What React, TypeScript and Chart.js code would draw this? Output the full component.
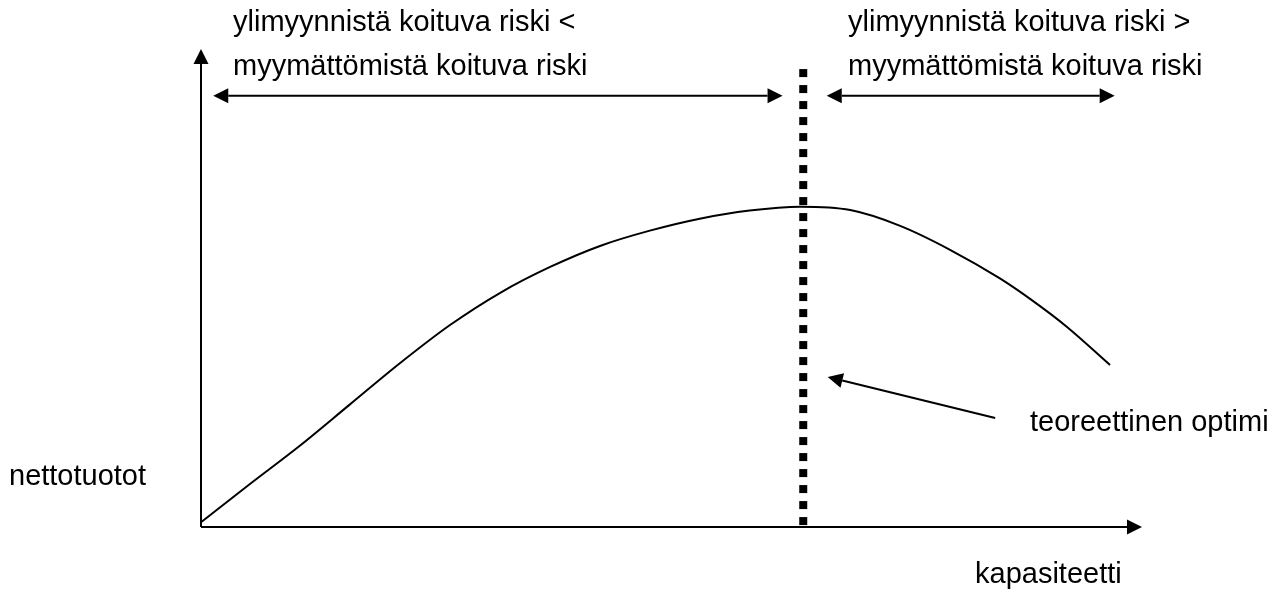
import React, { useEffect, useRef } from "react";
import { Chart, registerables } from "chart.js";

Chart.register(...registerables);

// Net revenue curve (x: capacity, y: net revenue)
const curveX = [0, 5.2, 10.5, 15.8, 21.1, 26.5, 31.8, 37.1, 42.4, 47.7, 53.0, 58.3, 63.7, 69.0, 74.3, 79.6, 84.9, 88.4, 92.0, 96.6];
const curveY = [1.0, 9.0, 17.0, 25.6, 34.2, 42.3, 49.0, 54.4, 58.8, 62.0, 64.5, 66.2, 67.0, 66.3, 63.0, 58.0, 52.0, 47.3, 41.9, 33.9];

// Theoretical optimum (vertical dotted line)
const optimumX = 64.0;
const optimumY = [95.8, 0];

// Arrows: [x1, y1, x2, y2, headAtStart, headAtEnd]
const arrowLines: [number, number, number, number, boolean, boolean][] = [
  [0, 0, 100, 0, false, true],        // x axis
  [0, 0, 0, 100, false, true],        // y axis
  [1.3, 90.2, 61.8, 90.2, true, true],
  [66.5, 90.2, 97.1, 90.2, true, true],
  [84.4, 22.8, 66.6, 31.4, false, true],
];

const labelTexts = [
  "ylimyynnistä koituva riski <",
  "myymättömistä koituva riski",
  "ylimyynnistä koituva riski >",
  "myymättömistä koituva riski",
  "nettotuotot",
  "teoreettinen optimi",
  "kapasiteetti",
];

// layout (pixel positions of labels)
const labelPos: [number, number][] = [
  [233, 31],
  [233, 75],
  [848, 31],
  [848, 75],
  [9, 485],
  [1030, 431],
  [975, 583],
];

const FONT = '29px "Liberation Sans", Arial, sans-serif';

const overlayPlugin = {
  id: "overlay",
  afterDatasetsDraw(chart: any) {
    const ctx = chart.ctx as CanvasRenderingContext2D;
    const xs = chart.scales.x;
    const ys = chart.scales.y;
    ctx.save();
    ctx.strokeStyle = "#000";
    ctx.fillStyle = "#000";
    ctx.lineWidth = 2;
    const head = (tx: number, ty: number, fx: number, fy: number) => {
      const ang = Math.atan2(ty - fy, tx - fx);
      const L = 15;
      const W = 7.5;
      const bx = tx - L * Math.cos(ang);
      const by = ty - L * Math.sin(ang);
      ctx.beginPath();
      ctx.moveTo(tx, ty);
      ctx.lineTo(bx + W * Math.sin(ang), by - W * Math.cos(ang));
      ctx.lineTo(bx - W * Math.sin(ang), by + W * Math.cos(ang));
      ctx.closePath();
      ctx.fill();
      return [bx, by];
    };
    for (const [x1, y1, x2, y2, hs, he] of arrowLines) {
      const px1 = xs.getPixelForValue(x1);
      const py1 = ys.getPixelForValue(y1);
      const px2 = xs.getPixelForValue(x2);
      const py2 = ys.getPixelForValue(y2);
      let sx = px1, sy = py1, ex = px2, ey = py2;
      if (hs) {
        const b = head(px1, py1, px2, py2);
        sx = b[0]; sy = b[1];
      }
      if (he) {
        const b = head(px2, py2, px1, py1);
        ex = b[0]; ey = b[1];
      }
      ctx.beginPath();
      ctx.moveTo(sx, sy);
      ctx.lineTo(ex, ey);
      ctx.stroke();
    }
    ctx.font = FONT;
    ctx.textBaseline = "alphabetic";
    ctx.textAlign = "left";
    labelTexts.forEach((t, i) => {
      ctx.fillText(t, labelPos[i][0], labelPos[i][1]);
    });
    ctx.restore();
  },
};

export default function App() {
  const ref = useRef<HTMLCanvasElement | null>(null);
  useEffect(() => {
    document.body.style.margin = "0";
    const canvas = ref.current;
    if (!canvas) return;
    const chart = new Chart(canvas, {
      type: "line",
      data: {
        datasets: [
          {
            data: curveX.map((x, i) => ({ x, y: curveY[i] })),
            borderColor: "#000",
            borderWidth: 2,
            pointRadius: 0,
            cubicInterpolationMode: "monotone",
            fill: false,
          },
          {
            data: optimumY.map((y) => ({ x: optimumX, y })),
            borderColor: "#000",
            borderWidth: 8,
            borderDash: [8, 8],
            borderCapStyle: "butt",
            pointRadius: 0,
            fill: false,
          },
        ],
      },
      options: {
        responsive: false,
        animation: false,
        devicePixelRatio: 1,
        clip: false as any,
        layout: { padding: { left: 201, right: 140, top: 49, bottom: 63 } },
        plugins: { legend: { display: false }, tooltip: { enabled: false } },
        scales: {
          x: { type: "linear", min: 0, max: 100, display: false },
          y: { type: "linear", min: 0, max: 100, display: false },
        },
      },
      plugins: [overlayPlugin],
    });
    return () => chart.destroy();
  }, []);
  return (
    <canvas ref={ref} width={1282} height={590} style={{ display: "block", width: 1282, height: 590 }} />
  );
}
